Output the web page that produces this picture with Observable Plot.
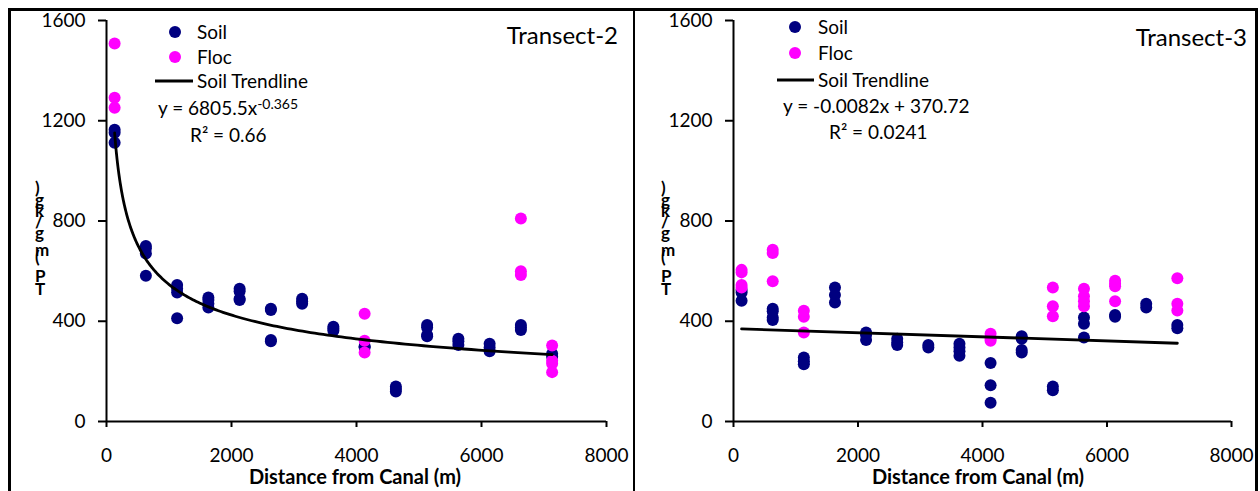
<!DOCTYPE html>
<html><head><meta charset="utf-8">
<script src="https://cdn.jsdelivr.net/npm/d3@7"></script>
<script src="https://cdn.jsdelivr.net/npm/@observablehq/plot@0.6"></script>
<style>
html,body{margin:0;padding:0;background:#fff;overflow:hidden}
#wrap{position:relative;width:1260px;height:491px;overflow:hidden;font-family:Lato,sans-serif}
.panel{position:absolute;top:0}
.box{position:absolute;box-sizing:border-box;border:0 solid #000;pointer-events:none}
</style></head><body><div id="wrap"></div>
<script>
// ---------- data ----------
const xTicks = [0, 2000, 4000, 6000, 8000];
const yTicks = [0, 400, 800, 1200, 1600];
const yTitle = "TP (mg/kg)";
const xTitle = "Distance from Canal (m)";
const legendLabels = ["Soil", "Floc", "Soil Trendline"];

const t2Stations = [130, 630, 1130, 1630, 2130, 2630, 3130, 3630, 4130, 4630, 5130, 5630, 6130, 6630, 7130];
const t2Soil = [
  [1164, 1152, 1112], [700, 690, 670, 582], [545, 530, 515, 412], [495, 485, 470, 455],
  [530, 520, 490, 485], [450, 445, 325, 320], [490, 480, 470], [378, 370, 362],
  [300, 296], [140, 130, 120], [385, 375, 345, 340], [330, 320, 305],
  [310, 295, 280], [385, 375, 365], [270, 258]
];
const t2FlocStations = [130, 4130, 6630, 7130];
const t2Floc = [[1508, 1292, 1252], [430, 322, 275], [810, 600, 585], [303, 242, 230, 197]];
const t2TrendCoef = [6805.5, -0.365];   // y = a x^b
const t2TrendRange = [130, 7130];

const t3Stations = [130, 630, 1130, 1630, 2130, 2630, 3130, 3630, 4130, 4630, 5130, 5630, 6130, 6630, 7130];
const t3Soil = [
  [525, 515, 482], [450, 440, 415, 405], [255, 240, 228], [535, 505, 475],
  [355, 345, 325], [330, 315, 305], [305, 295], [310, 295, 280, 262],
  [233, 145, 75], [340, 330, 285, 275], [140, 125], [415, 390, 335],
  [425, 418], [470, 455], [385, 372]
];
const t3FlocStations = [130, 630, 1130, 4130, 5130, 5630, 6130, 7130];
const t3Floc = [[605, 595, 545, 535], [685, 672, 560], [442, 418, 355], [350, 330, 322],
  [535, 460, 420], [530, 500, 480, 460], [562, 550, 540, 480], [572, 470, 443]];
const t3TrendCoef = [-0.0082, 370.72];  // y = m x + c
const t3TrendRange = [130, 7130];

// ---------- drawing ----------
const SOIL = "#000080", FLOC = "#ff00ff";
const FONT = "Lato, 'Open Sans', sans-serif";

function flat(stations, vals) {
  return stations.flatMap((s, i) => vals[i].map(v => ({x: s, y: v})));
}

function panel(cfg) {
  const soil = flat(cfg.stations, cfg.soil);
  const floc = flat(cfg.flocStations, cfg.floc);
  const plot = Plot.plot({
    width: cfg.width, height: 491,
    marginLeft: cfg.ml, marginRight: cfg.mr, marginTop: 20, marginBottom: 70,
    style: {fontFamily: FONT, fontSize: "19px", color: "#000", background: "transparent", overflow: "visible"},
    x: {domain: [0, 8000], label: null},
    y: {domain: [0, 1600], label: null},
    marks: [
      Plot.axisX({ticks: xTicks, tickSize: 6, tickPadding: 21, strokeWidth: 2, label: null, tickFormat: d => String(d)}),
      Plot.axisY({ticks: yTicks, tickSize: 8, tickPadding: 13, strokeWidth: 2, label: null, tickFormat: d => String(d)}),
      Plot.ruleX([0], {stroke: "#000", strokeWidth: 2}),
      Plot.ruleY([0], {stroke: "#000", strokeWidth: 2}),
      Plot.dot(soil, {x: "x", y: "y", r: 6, fill: SOIL}),
      Plot.dot(floc, {x: "x", y: "y", r: 6, fill: FLOC}),
      Plot.line(cfg.trend, {x: "x", y: "y", stroke: "#000", strokeWidth: 2.8, curve: "linear"})
    ]
  });
  const svg = d3.select(plot);
  const L = cfg.legend;
  const g = svg.append("g").attr("font-family", FONT).attr("font-size", 19).attr("fill", "#000")
    .attr("text-anchor", "start");
  g.append("circle").attr("cx", L.dotX).attr("cy", L.y[0]).attr("r", 6).attr("fill", SOIL);
  g.append("circle").attr("cx", L.dotX).attr("cy", L.y[1]).attr("r", 6).attr("fill", FLOC);
  g.append("line").attr("x1", L.lineX[0]).attr("x2", L.lineX[1]).attr("y1", L.y[2]).attr("y2", L.y[2])
    .attr("stroke", "#000").attr("stroke-width", 2.8);
  legendLabels.forEach((t, i) => {
    g.append("text").attr("x", L.textX).attr("y", L.y[i]).attr("dy", "0.36em").text(t);
  });
  // equation
  const eq = g.append("text").attr("x", L.eqX).attr("y", L.eqY).attr("dy", "0.36em");
  cfg.eqParts.forEach(p => {
    const ts = eq.append("tspan").text(p.t);
    if (p.sup) ts.attr("font-size", 14).attr("baseline-shift", "45%");
  });
  const r2 = g.append("text").attr("x", L.r2X).attr("y", L.r2Y).attr("dy", "0.36em");
  r2.text("R² = " + cfg.r2);
  // panel title
  g.append("text").attr("x", cfg.titleX).attr("y", cfg.titleY).attr("dy", "0.36em")
    .attr("text-anchor", "end").attr("font-size", 24).text(cfg.title);
  // x axis title
  g.append("text").attr("x", cfg.xTitleX).attr("y", 484).attr("text-anchor", "middle")
    .attr("font-weight", "bold").attr("font-size", 20).text(xTitle);
  // y title: text rotated bottom-to-top with upright glyphs (as in the original)
  g.append("text")
    .attr("transform", `translate(${cfg.yTitleX},295) rotate(-90)`)
    .attr("rotate", 90)
    .attr("font-weight", "bold").attr("font-size", 17).attr("letter-spacing", 2.5)
    .text(yTitle);
  return plot;
}

const t2Trend = d3.range(0, 201).map(i => {
  const x = t2TrendRange[0] * Math.pow(t2TrendRange[1] / t2TrendRange[0], i / 200);
  return {x, y: t2TrendCoef[0] * Math.pow(x, t2TrendCoef[1])};
});
const t3Trend = t3TrendRange.map(x => ({x, y: t3TrendCoef[0] * x + t3TrendCoef[1]}));

const wrap = document.getElementById("wrap");

const p1 = panel({
  width: 634, ml: 106, mr: 28,
  stations: t2Stations, soil: t2Soil, flocStations: t2FlocStations, floc: t2Floc, trend: t2Trend,
  legend: {dotX: 175, textX: 197, lineX: [155, 193], y: [32, 57, 81], eqX: 158, eqY: 108, r2X: 190, r2Y: 135},
  eqParts: [{t: "y = 6805.5x"}, {t: "-0.365", sup: true}], r2: "0.66",
  title: "Transect-2", titleX: 618, titleY: 35, xTitleX: 355, yTitleX: 35
});
const d1 = document.createElement("div"); d1.className = "panel"; d1.style.left = "0px";
d1.appendChild(p1); wrap.appendChild(d1);

const p2 = panel({
  width: 626, ml: 99, mr: 29,
  stations: t3Stations, soil: t3Soil, flocStations: t3FlocStations, floc: t3Floc, trend: t3Trend,
  legend: {dotX: 161, textX: 184, lineX: [143, 180], y: [27, 53, 80], eqX: 149, eqY: 106, r2X: 195, r2Y: 132},
  eqParts: [{t: "y = -0.0082x + 370.72"}], r2: "0.0241",
  title: "Transect-3", titleX: 613, titleY: 37, xTitleX: 344, yTitleX: 27
});
const d2 = document.createElement("div"); d2.className = "panel"; d2.style.left = "634px";
d2.appendChild(p2); wrap.appendChild(d2);

// panel frames
const b1 = document.createElement("div"); b1.className = "box";
Object.assign(b1.style, {left: "8px", top: "8px", width: "627px", height: "600px",
  borderTopWidth: "3px", borderLeftWidth: "3px", borderRightWidth: "2px"});
wrap.appendChild(b1);
const b2 = document.createElement("div"); b2.className = "box";
Object.assign(b2.style, {left: "635px", top: "8px", width: "623px", height: "600px",
  borderTopWidth: "3px", borderRightWidth: "3px"});
wrap.appendChild(b2);
</script></body></html>
